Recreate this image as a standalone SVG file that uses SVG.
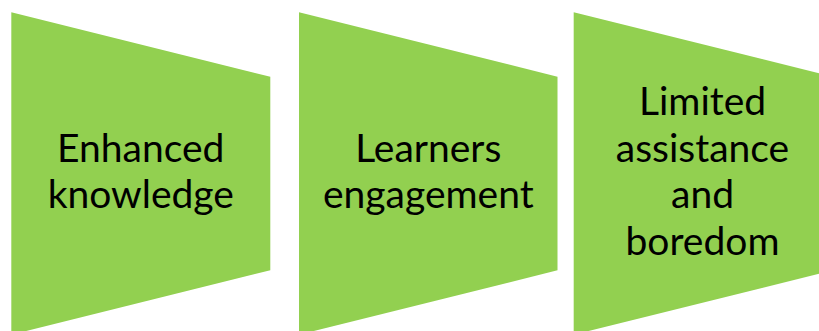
<svg xmlns="http://www.w3.org/2000/svg" width="819" height="331" viewBox="0 0 819 331">
  <style>
    .shape { fill: #92D050; stroke: none; }
    .label { font-family: Lato, "Open Sans", "Liberation Sans", sans-serif; font-size: 39px; fill: #000000; text-anchor: middle; }
  </style>
  <rect width="819" height="331" fill="#ffffff"/>
  <g id="node-enhanced-knowledge">
    <polygon class="shape" points="11.3,12.3 270.3,76.7 270.3,270.3 11.3,334.7"/>
    <text class="label" x="140.8" y="161.7">Enhanced</text>
    <text class="label" x="140.8" y="208.3">knowledge</text>
  </g>
  <g id="node-learners-engagement">
    <polygon class="shape" points="299,12.3 557.5,76.7 557.5,270.3 299,334.7"/>
    <text class="label" x="428.3" y="161.7">Learners</text>
    <text class="label" x="428.3" y="208.3">engagement</text>
  </g>
  <g id="node-limited-assistance">
    <polygon class="shape" points="573.7,12.3 832.7,76.7 832.7,270.3 573.7,334.7"/>
    <text class="label" x="702.5" y="115">Limited</text>
    <text class="label" x="702.5" y="161.7">assistance</text>
    <text class="label" x="702.5" y="208.3">and</text>
    <text class="label" x="702.5" y="255">boredom</text>
  </g>
  <g id="connectors"/>
</svg>
